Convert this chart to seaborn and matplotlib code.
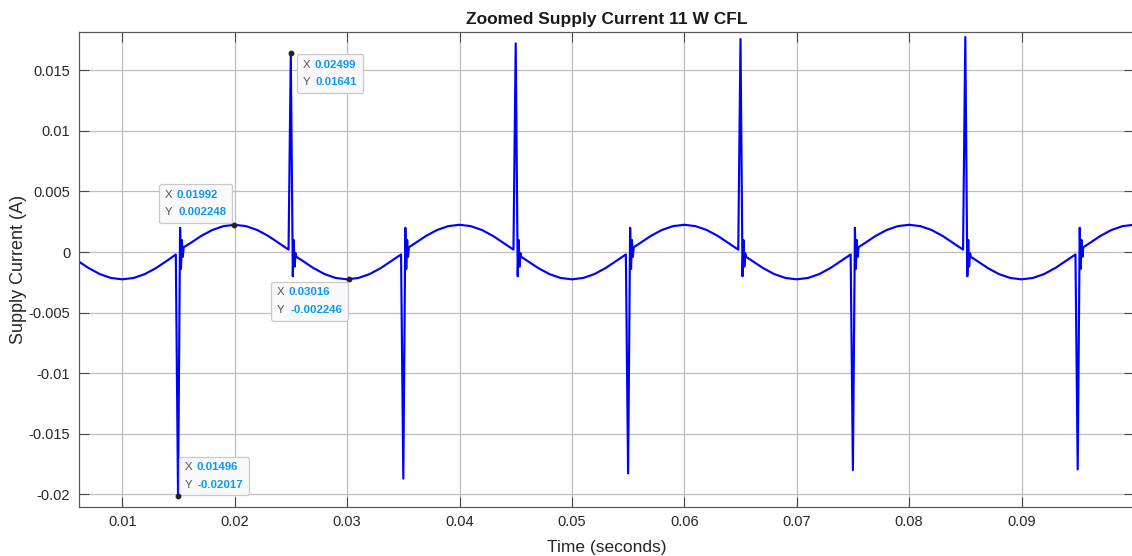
import numpy as np
import matplotlib
matplotlib.use("Agg")
import matplotlib.pyplot as plt
import seaborn as sns
from matplotlib.offsetbox import TextArea, HPacker, VPacker, AnnotationBbox

# ---------------- data ----------------
# smooth 50 Hz part of the supply current, sampled every 1 ms
base_t = [0.006, 0.007, 0.008, 0.009, 0.010, 0.011, 0.012, 0.013, 0.014,
          0.016, 0.017, 0.018, 0.019, 0.020, 0.021, 0.022, 0.023, 0.024,
          0.026, 0.027, 0.028, 0.029, 0.030, 0.031, 0.032, 0.033, 0.034,
          0.036, 0.037, 0.038, 0.039, 0.040, 0.041, 0.042, 0.043, 0.044,
          0.046, 0.047, 0.048, 0.049, 0.050, 0.051, 0.052, 0.053, 0.054,
          0.056, 0.057, 0.058, 0.059, 0.060, 0.061, 0.062, 0.063, 0.064,
          0.066, 0.067, 0.068, 0.069, 0.070, 0.071, 0.072, 0.073, 0.074,
          0.076, 0.077, 0.078, 0.079, 0.080, 0.081, 0.082, 0.083, 0.084,
          0.086, 0.087, 0.088, 0.089, 0.090, 0.091, 0.092, 0.093, 0.094,
          0.096, 0.097, 0.098, 0.099, 0.100]
base_i = [-0.00070, -0.00132, -0.00182, -0.00214, -0.00225, -0.00214, -0.00182, -0.00132, -0.00070,
          0.00070, 0.00132, 0.00182, 0.00214, 0.00225, 0.00214, 0.00182, 0.00132, 0.00070,
          -0.00070, -0.00132, -0.00182, -0.00214, -0.00225, -0.00214, -0.00182, -0.00132, -0.00070,
          0.00070, 0.00132, 0.00182, 0.00214, 0.00225, 0.00214, 0.00182, 0.00132, 0.00070,
          -0.00070, -0.00132, -0.00182, -0.00214, -0.00225, -0.00214, -0.00182, -0.00132, -0.00070,
          0.00070, 0.00132, 0.00182, 0.00214, 0.00225, 0.00214, 0.00182, 0.00132, 0.00070,
          -0.00070, -0.00132, -0.00182, -0.00214, -0.00225, -0.00214, -0.00182, -0.00132, -0.00070,
          0.00070, 0.00132, 0.00182, 0.00214, 0.00225, 0.00214, 0.00182, 0.00132, 0.00070,
          -0.00070, -0.00132, -0.00182, -0.00214, -0.00225, -0.00214, -0.00182, -0.00132, -0.00070,
          0.00070, 0.00132, 0.00182, 0.00214, 0.00225]

# switching spikes with their short ringing
spike_t = [0.01476, 0.01496, 0.01514, 0.01522, 0.01530, 0.01538, 0.01546,
           0.02479, 0.02499, 0.02517, 0.02525, 0.02533, 0.02541, 0.02549,
           0.03480, 0.03500, 0.03518, 0.03526, 0.03534, 0.03542, 0.03550,
           0.04480, 0.04500, 0.04518, 0.04526, 0.04534, 0.04542, 0.04550,
           0.05480, 0.05500, 0.05518, 0.05526, 0.05534, 0.05542, 0.05550,
           0.06480, 0.06500, 0.06518, 0.06526, 0.06534, 0.06542, 0.06550,
           0.07480, 0.07500, 0.07518, 0.07526, 0.07534, 0.07542, 0.07550,
           0.08480, 0.08500, 0.08518, 0.08526, 0.08534, 0.08542, 0.08550,
           0.09480, 0.09500, 0.09518, 0.09526, 0.09534, 0.09542, 0.09550]
spike_i = [-0.0002, -0.02017, 0.0020, -0.0014, 0.0010, -0.0004, 0.0004,
           0.0002, 0.01641, -0.0020, 0.0010, -0.0012, -0.0001, -0.0004,
           -0.0002, -0.01870, 0.0020, -0.0014, 0.0010, -0.0004, 0.0004,
           0.0002, 0.01723, -0.0020, 0.0010, -0.0012, -0.0001, -0.0004,
           -0.0002, -0.01827, 0.0020, -0.0014, 0.0010, -0.0004, 0.0004,
           0.0002, 0.01758, -0.0020, 0.0010, -0.0012, -0.0001, -0.0004,
           -0.0002, -0.01800, 0.0020, -0.0014, 0.0010, -0.0004, 0.0004,
           0.0002, 0.01775, -0.0020, 0.0010, -0.0012, -0.0001, -0.0004,
           -0.0002, -0.01794, 0.0020, -0.0014, 0.0010, -0.0004, 0.0004]

# data tips shown on the chart
tip_x = [0.01496, 0.01992, 0.02499, 0.03016]
tip_y = [-0.02017, 0.002248, 0.01641, -0.002246]
tip_xlabel = ["0.01496", "0.01992", "0.02499", "0.03016"]
tip_ylabel = ["-0.02017", "0.002248", "0.01641", "-0.002246"]

x_ticks = [0.01, 0.02, 0.03, 0.04, 0.05, 0.06, 0.07, 0.08, 0.09]
x_ticklabels = ["0.01", "0.02", "0.03", "0.04", "0.05", "0.06", "0.07", "0.08", "0.09"]
y_ticks = [-0.02, -0.015, -0.01, -0.005, 0, 0.005, 0.01, 0.015]
y_ticklabels = ["-0.02", "-0.015", "-0.01", "-0.005", "0", "0.005", "0.01", "0.015"]

# ---------------- build series ----------------
t_all = np.array(base_t + spike_t)
i_all = np.array(base_i + spike_i)
order = np.argsort(t_all)
t_all = t_all[order]
i_all = i_all[order]

sns.set_theme(style="white")
plt.rcParams['font.family'] = ['Liberation Sans', 'DejaVu Sans']

fig = plt.figure(figsize=(11.32, 5.56), dpi=100)
ax = fig.add_axes([78.7 / 1132, (556 - 506.7) / 556, (1133.9 - 78.7) / 1132, (506.7 - 32.3) / 556])

sns.lineplot(x=t_all, y=i_all, ax=ax, color="#0000ff", linewidth=1.55,
             estimator=None, sort=False)

ax.set_xlim(0.00612, 0.1)
ax.set_ylim(-0.02102, 0.01814)
ax.set_xticks(x_ticks)
ax.set_xticklabels(x_ticklabels)
ax.set_yticks(y_ticks)
ax.set_yticklabels(y_ticklabels)

ax.grid(True, color="#bdbdbd", linewidth=0.9)
ax.set_axisbelow(True)
for s in ax.spines.values():
    s.set_color("#5a5a5a")
    s.set_linewidth(0.9)
ax.tick_params(direction="in", length=7, width=0.8, color="#4a4a4a",
               top=True, right=True, bottom=True, left=True,
               labelsize=10.5, labelcolor="#262626", pad=6)

ax.set_title("Zoomed Supply Current 11 W CFL", fontsize=12.5, fontweight="bold",
             color="#1a1a1a", pad=6)
ax.set_xlabel("Time (seconds)", fontsize=12.5, color="#262626", labelpad=8)
ax.set_ylabel("Supply Current (A)", fontsize=13, color="#262626", labelpad=1)

# data tip boxes: (box alignment, offset of the text block in points)
tip_align = [(0, 0), (1, 0), (0, 1), (1, 1)]
tip_offset = [(4.7, 4.7), (-5.4, 5.4), (8.6, -4.6), (-4.9, -5.8)]
for k in range(len(tip_x)):
    fs = 8.2
    row1 = HPacker(children=[TextArea("X", textprops=dict(color="#555555", fontsize=fs)),
                             TextArea(tip_xlabel[k], textprops=dict(color="#0a98f0", fontsize=fs,
                                                                    fontweight="bold"))],
                   align="baseline", pad=0, sep=3)
    row2 = HPacker(children=[TextArea("Y", textprops=dict(color="#555555", fontsize=fs)),
                             TextArea(tip_ylabel[k], textprops=dict(color="#0a98f0", fontsize=fs,
                                                                    fontweight="bold"))],
                   align="baseline", pad=0, sep=4)
    box = VPacker(children=[row1, row2], align="left", pad=0, sep=5.5)
    ab = AnnotationBbox(box, (tip_x[k], tip_y[k]), xybox=tip_offset[k],
                        xycoords="data", boxcoords="offset points",
                        box_alignment=tip_align[k], frameon=True, fontsize=8,
                        bboxprops=dict(boxstyle="round,pad=0.5,rounding_size=0.2",
                                       facecolor="#f9f9fb", edgecolor="#c9c9c9",
                                       linewidth=0.9), zorder=6)
    ax.add_artist(ab)

# data tip markers
ax.plot(tip_x, tip_y, linestyle="none", marker="o", markersize=3.2,
        color="#222222", zorder=8)

fig.savefig("out.png", dpi=100)
